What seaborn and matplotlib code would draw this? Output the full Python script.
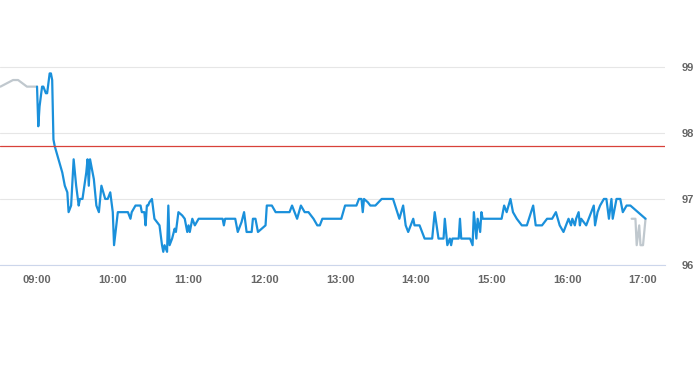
import pandas as pd
import matplotlib
matplotlib.use("Agg")
import matplotlib.pyplot as plt
import matplotlib.dates as mdates
import seaborn as sns

# --- data ---
day = "2024-01-02 "

pre_times = ["08:31", "08:41", "08:45", "08:52", "09:00"]
pre_values = [98.7, 98.8, 98.8, 98.7, 98.7]

main_times = [
    "09:00", "09:01", "09:02", "09:04", "09:05", "09:07", "09:08", "09:10", "09:11", "09:12",
    "09:13", "09:14", "09:17", "09:20", "09:21", "09:22", "09:24", "09:25", "09:27", "09:29",
    "09:31", "09:33", "09:34", "09:36", "09:39", "09:40", "09:41", "09:42", "09:45", "09:47",
    "09:49", "09:51", "09:54", "09:56", "09:58", "10:00", "10:01", "10:04", "10:12", "10:14",
    "10:15", "10:18", "10:22", "10:23", "10:25", "10:26", "10:27", "10:28", "10:29", "10:31",
    "10:33", "10:35", "10:37", "10:39", "10:40", "10:41", "10:43", "10:44", "10:45", "10:47",
    "10:49", "10:50", "10:52", "10:55", "10:57", "10:59", "11:00", "11:01", "11:03", "11:05",
    "11:08", "11:27", "11:28", "11:29", "11:37", "11:39", "11:42", "11:44", "11:46", "11:50",
    "11:51", "11:53", "11:55", "11:58", "12:01", "12:02", "12:06", "12:09", "12:20", "12:22",
    "12:26", "12:29", "12:32", "12:35", "12:39", "12:42", "12:44", "12:46", "13:01", "13:04",
    "13:13", "13:15", "13:17", "13:18", "13:19", "13:22", "13:24", "13:28", "13:33", "13:42",
    "13:47", "13:50", "13:52", "13:54", "13:58", "13:59", "14:03", "14:07", "14:13", "14:15",
    "14:18", "14:22", "14:23", "14:25", "14:27", "14:28", "14:29", "14:34", "14:35", "14:36",
    "14:43", "14:45", "14:46", "14:48", "14:49", "14:51", "14:52", "14:53", "15:08", "15:10",
    "15:12", "15:15", "15:17", "15:20", "15:24", "15:28", "15:33", "15:35", "15:40", "15:44",
    "15:48", "15:51", "15:54", "15:57", "16:01", "16:03", "16:04", "16:06", "16:07", "16:09",
    "16:10", "16:11", "16:15", "16:19", "16:21", "16:22", "16:24", "16:26", "16:29", "16:31",
    "16:33", "16:35", "16:36", "16:39", "16:42", "16:44", "16:47", "16:50", "17:02",
]
main_values = [
    98.7, 98.1, 98.4, 98.7, 98.7, 98.6, 98.6, 98.9, 98.9, 98.8,
    97.9, 97.8, 97.6, 97.4, 97.3, 97.2, 97.1, 96.8, 96.9, 97.6,
    97.2, 96.9, 97.0, 97.0, 97.4, 97.6, 97.2, 97.6, 97.3, 96.9,
    96.8, 97.2, 97.0, 97.0, 97.1, 96.8, 96.3, 96.8, 96.8, 96.7,
    96.8, 96.9, 96.9, 96.8, 96.8, 96.6, 96.9, 96.9, 96.95, 97.0,
    96.7, 96.65, 96.6, 96.3, 96.2, 96.3, 96.2, 96.9, 96.3, 96.4,
    96.55, 96.5, 96.8, 96.75, 96.7, 96.5, 96.6, 96.5, 96.7, 96.6,
    96.7, 96.7, 96.6, 96.7, 96.7, 96.5, 96.65, 96.8, 96.5, 96.5,
    96.7, 96.7, 96.5, 96.55, 96.6, 96.9, 96.9, 96.8, 96.8, 96.9,
    96.7, 96.9, 96.8, 96.8, 96.7, 96.6, 96.6, 96.7, 96.7, 96.9,
    96.9, 97.0, 97.0, 96.8, 97.0, 96.95, 96.9, 96.9, 97.0, 97.0,
    96.7, 96.9, 96.6, 96.5, 96.7, 96.6, 96.6, 96.4, 96.4, 96.8,
    96.4, 96.4, 96.7, 96.3, 96.4, 96.3, 96.4, 96.4, 96.7, 96.4,
    96.4, 96.3, 96.8, 96.4, 96.7, 96.5, 96.8, 96.7, 96.7, 96.9,
    96.8, 97.0, 96.8, 96.7, 96.6, 96.6, 96.9, 96.6, 96.6, 96.7,
    96.7, 96.8, 96.6, 96.5, 96.7, 96.6, 96.7, 96.6, 96.7, 96.8,
    96.6, 96.7, 96.6, 96.8, 96.9, 96.6, 96.8, 96.9, 97.0, 97.0,
    96.7, 97.0, 96.7, 97.0, 97.0, 96.8, 96.9, 96.9, 96.7,
]

post_times = ["16:51", "16:54", "16:55", "16:57", "16:58", "17:00", "17:02"]
post_values = [96.7, 96.7, 96.3, 96.6, 96.3, 96.3, 96.7]

reference_level = 97.8
hour_ticks = ["09:00", "10:00", "11:00", "12:00", "13:00", "14:00", "15:00", "16:00", "17:00"]
y_ticks = [96, 97, 98, 99]
x_range = ["08:30:40", "17:17:25"]
y_range = [96, 99.86]


def to_df(times, values):
    return pd.DataFrame({"time": pd.to_datetime([day + t for t in times]), "price": values})


pre_df = to_df(pre_times, pre_values)
main_df = to_df(main_times, main_values)
post_df = to_df(post_times, post_values)

# --- plotting ---
sns.set_style("white")
plt.rcParams["font.family"] = ["Liberation Sans", "DejaVu Sans"]

fig = plt.figure(figsize=(6.93, 3.65), dpi=100)
ax = fig.add_axes([0.0, 100 / 365, 665 / 693, 255 / 365])

sns.lineplot(data=pre_df, x="time", y="price", ax=ax, color="#c0c8ce", linewidth=1.6)
sns.lineplot(data=post_df, x="time", y="price", ax=ax, color="#c0c8ce", linewidth=1.6)
sns.lineplot(data=main_df, x="time", y="price", ax=ax, color="#1a90db", linewidth=1.6)
ax.axhline(reference_level, color="#d8413a", linewidth=0.9, zorder=3)

ax.set_xlim(pd.Timestamp(day + x_range[0]), pd.Timestamp(day + x_range[1]))
ax.set_ylim(*y_range)
ax.set_xticks(pd.to_datetime([day + t for t in hour_ticks]))
ax.xaxis.set_major_formatter(mdates.DateFormatter("%H:%M"))
ax.set_yticks(y_ticks)
ax.yaxis.tick_right()

ax.grid(axis="y", color="#e6e6e6", linewidth=0.8)
ax.grid(axis="x", visible=False)
for side in ["top", "left", "right"]:
    ax.spines[side].set_visible(False)
ax.spines["bottom"].set_color("#ccd6eb")
ax.spines["bottom"].set_linewidth(0.8)

ax.tick_params(axis="x", length=4.5, width=0.8, color="#ccd6eb", pad=3,
               labelsize=8, labelcolor="#666666")
ax.tick_params(axis="y", length=0, pad=12, labelsize=8, labelcolor="#666666")
for lbl in ax.get_xticklabels():
    lbl.set_fontweight("bold")
for lbl in ax.get_yticklabels():
    lbl.set_fontweight("bold")
ax.set_xlabel("")
ax.set_ylabel("")

fig.savefig("out.png", dpi=100)
